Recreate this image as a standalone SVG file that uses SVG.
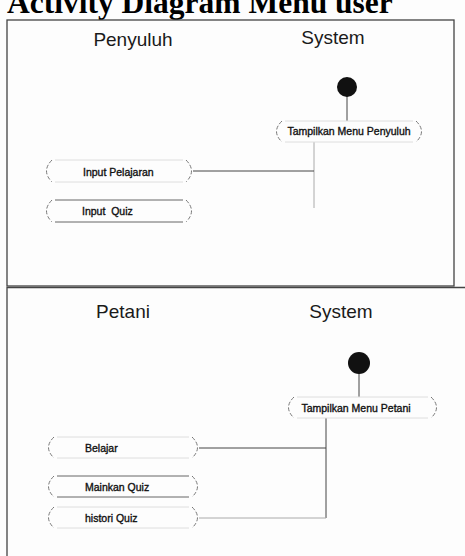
<svg xmlns="http://www.w3.org/2000/svg" width="465" height="556" viewBox="0 0 465 556">
<style>
.title{font-family:"Liberation Serif","Times New Roman",serif;font-weight:bold;font-size:31.5px;fill:#000}
.lane{font-family:"Liberation Sans",Arial,sans-serif;font-size:19px;fill:#1a1a1a}
.lbl{font-family:"Liberation Sans",Arial,sans-serif;font-size:10.5px;fill:#111;stroke:#111;stroke-width:0.35;white-space:pre}
.frame{fill:none;stroke:#444;stroke-width:1.3}
.edge{fill:none;stroke:#444;stroke-width:1}
.edge-l{fill:none;stroke:#aaa;stroke-width:1}
.end{fill:none;stroke:#777;stroke-width:1;stroke-dasharray:4 2}
.side{fill:none;stroke:#dedede;stroke-width:1}
.side-d{fill:none;stroke:#666;stroke-width:1}
.dot{fill:#111}
</style>
<rect width="465" height="556" fill="#fdfdfd"/>
<text class="title" x="7" y="13">Activity Diagram Menu user</text>
<g id="frame1"><rect class="frame" x="7" y="20" width="447" height="266" fill="#fcfcfc"/></g>
<g id="frame2"><path class="frame" d="M465,287.5 H7 V556"/></g>
<text class="lane" x="133" y="46" text-anchor="middle">Penyuluh</text>
<text class="lane" x="333" y="44" text-anchor="middle">System</text>
<text class="lane" x="123" y="318" text-anchor="middle">Petani</text>
<text class="lane" x="341" y="318" text-anchor="middle">System</text>
<g id="connectors">
<line class="edge" x1="347" y1="96" x2="347" y2="121"/>
<line class="edge-l" x1="314" y1="142" x2="314" y2="208"/>
<line class="edge" x1="193" y1="171" x2="314" y2="171"/>
<line class="edge" x1="359" y1="373" x2="359" y2="397"/>
<line class="edge" x1="326" y1="418" x2="326" y2="518"/>
<line class="edge" x1="199" y1="448" x2="326" y2="448"/>
<line class="edge-l" x1="199" y1="518" x2="326" y2="518"/>
</g>
<g id="start1"><circle class="dot" cx="347" cy="87" r="10"/></g>
<g id="start2"><circle class="dot" cx="359" cy="363" r="11"/></g>
<g id="tampilkan-penyuluh">
<path class="side" d="M285,121 H413 M285,142 H413"/>
<path class="end" d="M282,121 Q271,131.5 282,142 M416,121 Q427,131.5 416,142"/>
<text class="lbl" x="349" y="135" text-anchor="middle">Tampilkan Menu Penyuluh</text>
</g>
<g id="input-pelajaran">
<path class="side" d="M55,160 H183 M55,182 H183"/>
<path class="end" d="M52,160 Q41,171 52,182 M186,160 Q197,171 186,182"/>
<text class="lbl" x="83" y="176">Input Pelajaran</text>
</g>
<g id="input-quiz">
<path class="side-d" d="M55,200 H183 M55,222 H183"/>
<path class="end" d="M52,200 Q41,211 52,222 M186,200 Q197,211 186,222"/>
<text class="lbl" x="82" y="215" xml:space="preserve">Input  Quiz</text>
</g>
<g id="tampilkan-petani">
<path class="side" d="M297,397 H428 M297,418 H428"/>
<path class="end" d="M294,397 Q283,407.5 294,418 M431,397 Q442,407.5 431,418"/>
<text class="lbl" x="356" y="412" text-anchor="middle">Tampilkan Menu Petani</text>
</g>
<g id="belajar">
<path class="side" d="M57,437 H189 M57,458 H189"/>
<path class="end" d="M54,437 Q43,447.5 54,458 M192,437 Q203,447.5 192,458"/>
<text class="lbl" x="85" y="452">Belajar</text>
</g>
<g id="mainkan-quiz">
<path class="side-d" d="M57,476 H189 M57,497 H189"/>
<path class="end" d="M54,476 Q43,486.5 54,497 M192,476 Q203,486.5 192,497"/>
<text class="lbl" x="85" y="491">Mainkan Quiz</text>
</g>
<g id="histori-quiz">
<path class="side" d="M57,507 H189 M57,528 H189"/>
<path class="end" d="M54,507 Q43,517.5 54,528 M192,507 Q203,517.5 192,528"/>
<text class="lbl" x="85" y="522">histori Quiz</text>
</g>
</svg>
